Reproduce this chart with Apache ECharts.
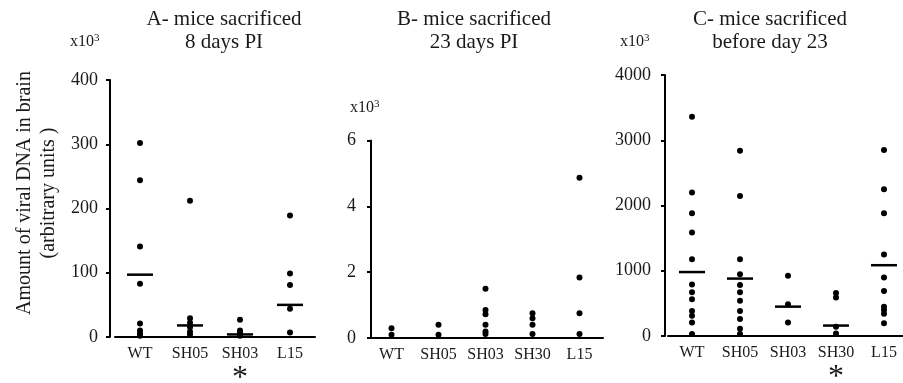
<!DOCTYPE html>
<html>
<head>
<meta charset="utf-8">
<script src="https://cdn.jsdelivr.net/npm/echarts@6/dist/echarts.min.js"></script>
<style>
  html, body { margin: 0; padding: 0; background: #fff; }
  #chart { width: 903px; height: 383px; }
</style>
</head>
<body>
<div id="chart"></div>
<script>
// panel A - mice sacrificed 8 days PI (x10^3)
const catsA = ['WT', 'SH05', 'SH03', 'L15'];
const dotsA = [
  [302, 244, 141, 83, 21, 10, 6, 2],
  [212, 29, 22, 15, 8, 4],
  [27, 10, 7, 4, 2],
  [189, 99, 81, 44, 7]
];
const mediansA = [97, 18, 4, 50];
const starA = ['SH03'];

// panel B - mice sacrificed 23 days PI (x10^3)
const catsB = ['WT', 'SH05', 'SH03', 'SH30', 'L15'];
const dotsB = [
  [0.3, 0.1],
  [0.4, 0.1],
  [1.5, 0.85, 0.72, 0.4, 0.2, 0.12],
  [0.75, 0.6, 0.4, 0.12],
  [4.87, 1.84, 0.75, 0.12]
];

// panel C - mice sacrificed before day 23 (x10^3)
const catsC = ['WT', 'SH05', 'SH03', 'SH30', 'L15'];
const dotsC = [
  [3360, 2200, 1880, 1585, 1175, 790, 670, 565, 385, 310, 205, 30],
  [2840, 2145, 1175, 945, 780, 670, 540, 385, 260, 110, 30],
  [925, 485, 205],
  [660, 590, 140, 40],
  [2850, 2250, 1880, 1250, 895, 690, 450, 400, 340, 195]
];
const mediansC = [980, 880, 450, 160, 1085];
const starC = ['SH30'];

const axisMax = [400, 6, 4000];
const axisStep = [100, 2, 1000];

const FONT = 'Liberation Serif';
const INK = '#000';
const TEXT = '#1a1a1a';

const chart = echarts.init(document.getElementById('chart'));

function pairs(cats, groups) {
  return cats.flatMap((c, i) => groups[i].map(v => [c, v]));
}

function xAxisFor(idx, cats, starred) {
  return {
    type: 'category',
    gridIndex: idx,
    data: cats,
    axisLine: { lineStyle: { color: INK, width: 2 } },
    axisTick: { show: false },
    axisLabel: {
      margin: 9,
      color: TEXT,
      fontFamily: FONT,
      fontSize: 16,
      interval: 0,
      formatter: v => starred.includes(v) ? v + '\n{s|*}' : v,
      rich: { s: { fontFamily: FONT, fontSize: 32, color: TEXT, lineHeight: 22, padding: [12, 0, 0, 0] } }
    }
  };
}

function yAxisFor(idx, offset, margin) {
  return {
    type: 'value',
    gridIndex: idx,
    min: 0,
    max: axisMax[idx],
    interval: axisStep[idx],
    offset: offset,
    axisLine: { show: true, lineStyle: { color: INK, width: 2 } },
    axisTick: { show: true, length: 4, lineStyle: { color: INK, width: 2 } },
    splitLine: { show: false },
    axisLabel: {
      margin: margin,
      color: TEXT,
      fontFamily: FONT,
      fontSize: 18,
      formatter: v => String(v)
    }
  };
}

function dotSeries(idx, cats, groups) {
  return {
    type: 'scatter',
    xAxisIndex: idx,
    yAxisIndex: idx,
    symbol: 'circle',
    symbolSize: 6,
    itemStyle: { color: INK, opacity: 1 },
    data: pairs(cats, groups),
    z: 3
  };
}

function medianSeries(idx, cats, meds) {
  return {
    type: 'scatter',
    xAxisIndex: idx,
    yAxisIndex: idx,
    symbol: 'rect',
    symbolSize: [26, 2.5],
    itemStyle: { color: INK, opacity: 1 },
    data: cats.map((c, i) => [c, meds[i]]),
    z: 2
  };
}

function label(x, y, txt, size) {
  return {
    type: 'text',
    x: x,
    y: y,
    style: {
      text: txt,
      fontFamily: FONT,
      fontSize: size,
      fill: TEXT,
      textAlign: 'center',
      textVerticalAlign: 'middle',
      lineHeight: 23
    }
  };
}

function power(x, y) {
  return {
    type: 'text',
    x: x,
    y: y,
    style: {
      text: '{a|x10}{b|3}',
      rich: {
        a: { fontFamily: FONT, fontSize: 16, fill: TEXT },
        b: { fontFamily: FONT, fontSize: 11, fill: TEXT, padding: [0, 0, 8, 0] }
      },
      textVerticalAlign: 'middle'
    }
  };
}

const option = {
  backgroundColor: '#fff',
  animation: false,
  grid: [
    { left: 115, top: 80, width: 200, height: 257, outerBoundsMode: 'none' },
    { left: 368, top: 140.5, width: 235, height: 197.5, outerBoundsMode: 'none' },
    { left: 668, top: 75, width: 240, height: 261, outerBoundsMode: 'none' }
  ],
  xAxis: [
    xAxisFor(0, catsA, starA),
    xAxisFor(1, catsB, []),
    xAxisFor(2, catsC, starC)
  ],
  yAxis: [
    yAxisFor(0, 5, 12),
    yAxisFor(1, -3, 15),
    yAxisFor(2, 3, 14)
  ],
  series: [
    medianSeries(0, catsA, mediansA),
    dotSeries(0, catsA, dotsA),
    dotSeries(1, catsB, dotsB),
    medianSeries(2, catsC, mediansC),
    dotSeries(2, catsC, dotsC)
  ],
  graphic: [
    label(224, 31, 'A- mice sacrificed\n8 days PI', 21),
    label(474, 31, 'B- mice sacrificed\n23 days PI', 21),
    label(770, 31, 'C- mice sacrificed\nbefore day 23', 21),
    power(70, 42),
    power(350, 108),
    power(620, 42),
    {
      type: 'text',
      x: 37,
      y: 193,
      rotation: Math.PI / 2,
      style: {
        text: 'Amount of viral DNA in brain\n(arbitrary units )',
        fontFamily: FONT,
        fontSize: 20,
        fill: TEXT,
        textAlign: 'center',
        textVerticalAlign: 'middle',
        lineHeight: 24
      }
    }
  ]
};

chart.setOption(option);
</script>
</body>
</html>
